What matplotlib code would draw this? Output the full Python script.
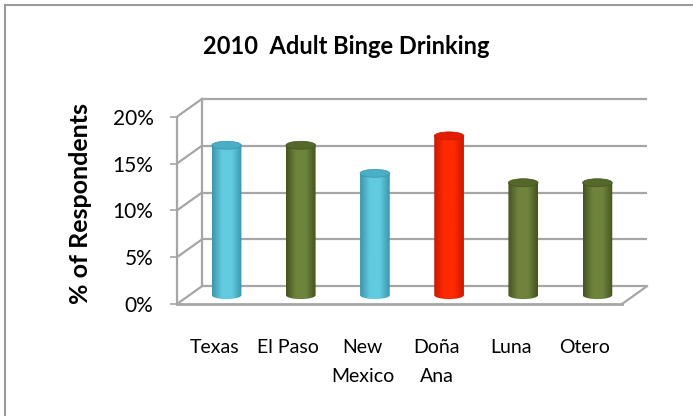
import numpy as np
import matplotlib
matplotlib.use("Agg")
import matplotlib.pyplot as plt
from matplotlib.patches import Polygon, Ellipse, Rectangle
from matplotlib.colors import LinearSegmentedColormap

# data
places = ["Texas", "El Paso", "New\nMexico", "Doña\nAna", "Luna", "Otero"]
pct = [16, 16, 13, 17, 12, 12]
kind = ["state", "county", "state", "home", "county", "county"]
yticks = [0, 5, 10, 15, 20]

# colours per kind: (dark edge, light face, top)
pal = {
    "state": ("#3a95ad", "#62cbe0", "#49aec6"),
    "county": ("#45531f", "#6e843d", "#536829"),
    "home": ("#c81800", "#ff2a00", "#e41c00"),
}

plt.rcParams['font.family'] = ['Lato', 'DejaVu Sans']

fig = plt.figure(figsize=(6.93, 4.16), dpi=100)
fig.patches.append(Rectangle((5/693, -0.1), 1.0, 1 + 0.1 - 5/416, transform=fig.transFigure,
                             fill=False, edgecolor="#9a9a9a", lw=1.5))

ax = fig.add_axes([177/693, (416-304)/416, 470/693, 207/416])
dx, dy = 0.337, 1.9     # depth offset of the back wall
n = len(places)

grid = "#a6a6a6"
# back wall gridlines + side wall diagonals
for v in yticks:
    ax.plot([-0.5 + dx, n - 0.5 + dx], [v + dy, v + dy], color=grid, lw=1.6, zorder=1)
    ax.plot([-0.5, -0.5 + dx], [v, v + dy], color=grid, lw=1.6, zorder=1)
ax.plot([-0.5 + dx, -0.5 + dx], [dy, 20 + dy], color=grid, lw=1.6, zorder=1)
# floor front + right edge
ax.plot([-0.5, n - 0.5], [0, 0], color=grid, lw=2, zorder=1, clip_on=False)
ax.plot([n - 0.5, n - 0.5 + dx], [0, dy], color=grid, lw=1.6, zorder=1, clip_on=False)

# cylinders
w, eh = 0.40, 0.85
for i, (v, k) in enumerate(zip(pct, kind)):
    dark, light, top = pal[k]
    cmap = LinearSegmentedColormap.from_list("c", [dark, light, light, dark], N=256)
    cx = i + dx / 2
    base = dy / 2
    tp = base + v
    t = np.linspace(np.pi, 2 * np.pi, 40)
    pts = list(zip(cx + w / 2 * np.cos(t), base + eh / 2 * np.sin(t)))
    pts += [(cx + w / 2, tp), (cx - w / 2, tp)]
    body = Polygon(pts, closed=True, facecolor="none", edgecolor="none")
    ax.add_patch(body)
    grad = np.linspace(0, 1, 100).reshape(1, -1)
    im = ax.imshow(grad, cmap=cmap, extent=[cx - w / 2, cx + w / 2, base - eh, tp],
                   aspect="auto", zorder=3, interpolation="bilinear")
    im.set_clip_path(body)
    ax.add_patch(Ellipse((cx, tp), w, eh, facecolor=top, edgecolor=dark, lw=0.5, zorder=4))

ax.set_xlim(-0.5, n - 0.5 + dx)
ax.set_ylim(0, 20 + 2.1)

for s in ["top", "right", "bottom"]:
    ax.spines[s].set_visible(False)
ax.spines["left"].set_bounds(0, 20)
ax.spines["left"].set_color(grid)
ax.spines["left"].set_linewidth(1.6)
ax.set_yticks(yticks)
ax.set_yticklabels([f"{v}%" for v in yticks], fontsize=15)
ax.tick_params(axis="y", direction="out", length=5, width=1.2, color=grid, pad=12)
ax.set_xticks(range(n))
ax.set_xticklabels(places, fontsize=14, linespacing=1.85)
ax.tick_params(axis="x", length=0, pad=25)

fig.text(0.5, 1 - 46/416, "2010  Adult Binge Drinking", ha="center", va="center",
         fontsize=17, fontweight="bold")
fig.text(80/693, 1 - 204/416, "% of Respondents", ha="center", va="center",
         rotation=90, fontsize=18, fontweight="bold")

fig.savefig("out.png", dpi=100)
